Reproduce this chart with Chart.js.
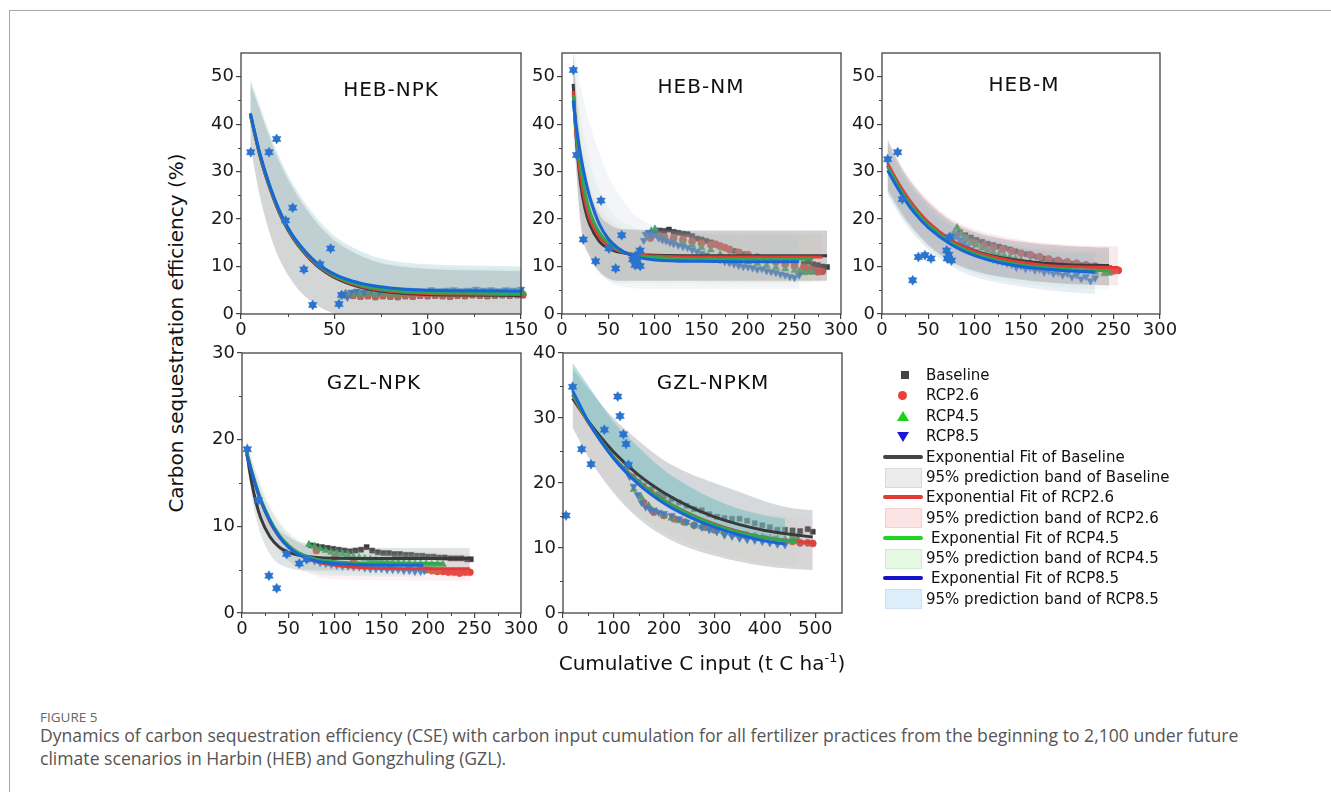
<!DOCTYPE html>
<html>
<head>
<meta charset="utf-8">
<script src="https://cdn.jsdelivr.net/npm/chart.js@4.4.1/dist/chart.umd.min.js"></script>
<style>
  body { margin: 0; background: #fff; width: 1331px; height: 792px; overflow: hidden; position: relative; font-family: "DejaVu Sans", sans-serif; }
  .frame { position: absolute; left: 9px; top: 10px; width: 1400px; height: 900px; border-left: 1px solid #a8a8a8; border-top: 1px solid #a8a8a8; }
  canvas { position: absolute; }
  .ptitle { position: absolute; font-size: 20px; letter-spacing: 1px; color: #111; transform: translate(-50%, -50%); white-space: nowrap; }
  .ylab { position: absolute; left: 176px; top: 333px; font-size: 20px; color: #111; white-space: nowrap; transform: translate(-50%, -50%) rotate(-90deg); }
  .xlab { position: absolute; left: 702px; top: 663px; font-size: 20px; color: #111; white-space: nowrap; transform: translate(-50%, -50%); }
  .xlab sup { font-size: 13px; vertical-align: 8px; line-height: 0; }
  .lg { position: absolute; font-size: 15px; color: #111; white-space: nowrap; transform: translateY(-50%); }
  .sym { position: absolute; }
  .fig { position: absolute; left: 40px; top: 708px; font-family: "Open Sans", sans-serif; font-size: 13.5px; color: #666; }
  .cap { position: absolute; left: 40px; top: 724px; width: 1230px; font-family: "Open Sans", sans-serif; font-size: 17.6px; line-height: 23px; color: #555; }
</style>
</head>
<body>
<div class="frame"></div>
<canvas id="c1"></canvas>
<canvas id="c2"></canvas>
<canvas id="c3"></canvas>
<canvas id="c4"></canvas>
<canvas id="c5"></canvas>

<div class="ptitle" style="left:391px;top:89px">HEB-NPK</div>
<div class="ptitle" style="left:701px;top:86px">HEB-NM</div>
<div class="ptitle" style="left:1024px;top:84px">HEB-M</div>
<div class="ptitle" style="left:374px;top:382px">GZL-NPK</div>
<div class="ptitle" style="left:713px;top:382px">GZL-NPKM</div>

<div class="ylab">Carbon sequestration efficiency (%)</div>
<div class="xlab">Cumulative C input (t C ha<sup>-1</sup>)</div>

<div id="legend"></div>

<div class="fig">FIGURE 5</div>
<div class="cap">Dynamics of carbon sequestration efficiency (CSE) with carbon input cumulation for all fertilizer practices from the beginning to 2,100 under future climate scenarios in Harbin (HEB) and Gongzhuling (GZL).</div>

<script>
// tick values
const ticksX150 = [0, 50, 100, 150];
const minorX150 = [25, 75, 125];
const ticksX300 = [0, 50, 100, 150, 200, 250, 300];
const minorX300 = [25, 75, 125, 175, 225, 275];
const ticksX500 = [0, 100, 200, 300, 400, 500];
const minorX500 = [50, 150, 250, 350, 450];
const ticksY50 = [0, 10, 20, 30, 40, 50];
const minorY50 = [5, 15, 25, 35, 45];
const ticksY30 = [0, 10, 20, 30];
const minorY30 = [5, 15, 25];
const ticksY40 = [0, 10, 20, 30, 40];
const minorY40 = [5, 15, 25, 35];

const scenarios = ['Baseline', 'RCP2.6', 'RCP4.5', 'RCP8.5'];

// ---- HEB-NPK ----
const hebNpkHist = [[5.2,34.1],[15,34.1],[19.1,36.9],[23.9,19.7],[27.7,22.4],[33.7,9.4],[38.4,1.9],[42.3,10.5],[48,13.8],[52.5,2.1],[53.9,4.0]];
const hebNpkBaseline = [[56,4.0],[60,3.8],[64,3.6],[68,3.7],[72,3.5],[76,3.7],[80,3.6],[84,3.5],[88,3.7],[92,3.6],[96,3.8],[100,3.7],[104,3.8],[108,3.7],[112,3.6],[116,3.8],[120,3.7],[124,3.9],[128,3.8],[132,3.7],[136,3.8],[140,3.9],[144,3.8],[148,3.9],[151,3.9]];
const hebNpkRcp26 = [[56,4.0],[60,3.9],[64,3.8],[68,3.9],[72,3.7],[76,3.9],[80,3.8],[84,3.7],[88,3.9],[92,3.8],[96,4.0],[100,3.9],[104,4.0],[108,3.9],[112,3.8],[116,4.0],[120,3.9],[124,4.1],[128,4.0],[132,3.9],[136,4.0],[140,4.1],[144,4.0],[148,4.1],[151,4.1]];
const hebNpkRcp45 = [[56,4.4],[60,4.2],[64,4.2],[68,4.3],[72,4.1],[76,4.3],[80,4.2],[84,4.1],[88,4.3],[92,4.2],[96,4.4],[100,4.3],[104,4.4],[108,4.3],[112,4.2],[116,4.4],[120,4.3],[124,4.5],[128,4.4],[132,4.3],[136,4.4],[140,4.5],[144,4.4],[148,4.5],[151,4.5]];
const hebNpkRcp85 = [[55,4.2],[57,3.5],[59,4.6],[62,4.8],[66,4.6],[70,4.9],[74,4.7],[78,5.0],[82,4.8],[86,4.7],[90,5.0],[94,4.9],[98,4.8],[102,5.1],[106,4.9],[110,5.0],[114,5.1],[118,4.9],[122,5.0],[126,5.2],[130,5.0],[134,5.1],[138,4.9],[142,5.1],[146,5.0],[150,5.2]];
const hebNpkFitBaseline = [[5,42],[10,33.5],[15,27],[20,21.8],[25,17.8],[30,14.8],[40,10.4],[50,7.7],[60,6.1],[70,5.1],[80,4.6],[100,4.1],[120,4.0],[150,3.9]];
const hebNpkFitRcp26 = [[5,42.1],[10,33.7],[15,27.2],[20,22],[25,18],[30,15],[40,10.6],[50,7.9],[60,6.3],[70,5.3],[80,4.8],[100,4.3],[120,4.2],[150,4.1]];
const hebNpkFitRcp45 = [[5,42.2],[10,33.8],[15,27.3],[20,22.1],[25,18.1],[30,15.1],[40,10.7],[50,8.1],[60,6.5],[70,5.5],[80,5.0],[100,4.5],[120,4.4],[150,4.3]];
const hebNpkFitRcp85 = [[5,42.3],[10,34],[15,27.5],[20,22.3],[25,18.3],[30,15.3],[40,11],[50,8.4],[60,6.9],[70,6.0],[80,5.5],[100,5.0],[120,4.9],[150,4.8]];
// bands: [x, lower, upper]
const hebNpkBandBaseline = [[5,35.5,48.5],[10,25,43],[15,17.5,37.5],[20,12,32.5],[30,5.5,25],[40,2,19.5],[50,0,15.5],[60,-1,13],[70,-1.5,11.3],[80,-1.5,10.3],[100,-1.5,9.5],[125,-1.5,9.2],[150,-1.5,9]];
const hebNpkBandRcp26 = [[5,35.7,48.7],[10,25.2,43.2],[15,17.7,37.7],[20,12.2,32.7],[30,5.7,25.2],[40,2.2,19.7],[50,0.2,15.7],[60,-0.8,13.2],[70,-1.3,11.5],[80,-1.3,10.5],[100,-1.3,9.7],[125,-1.3,9.4],[150,-1.3,9.2]];
const hebNpkBandRcp45 = [[5,36,49],[10,25.5,43.5],[15,18,38],[20,12.5,33],[30,6,25.5],[40,2.5,20],[50,0.5,16],[60,-0.5,13.5],[70,-1,11.8],[80,-1,10.8],[100,-1,10],[125,-1,9.7],[150,-1,9.5]];
const hebNpkBandRcp85 = [[5,42.3,49.5],[10,34,44],[15,27.5,38.5],[20,22.3,33.5],[30,15.3,26],[40,11,20.5],[50,8.4,16.5],[60,6.9,14],[70,6.0,12.3],[80,5.5,11.3],[100,5.0,10.5],[125,4.9,10.2],[150,4.8,10]];

// ---- HEB-NM ----
const hebNmHist = [[12.2,51.4],[15.8,33.5],[22.9,15.7],[36.2,11.1],[41.9,23.9],[50.5,13.8],[57.7,9.6],[64.2,16.6],[76,11.5],[78.5,10.3],[79,12.3],[81,11.2],[84,13.4],[84,10.1]];
const hebNmBaseline = [[95,16.5],[100,17.2],[105,17.6],[110,17.5],[115,17.8],[120,17.3],[125,17.1],[130,16.9],[135,16.8],[140,16.4],[145,15.9],[150,15.7],[155,15.4],[160,15.1],[165,14.8],[170,14.4],[175,14.0],[180,13.7],[185,13.3],[190,13.0],[195,12.6],[200,12.3],[210,11.8],[220,11.4],[230,11.1],[240,10.9],[250,10.7],[260,10.6],[265,11.0],[270,10.5],[275,10.3],[280,10.0],[285,9.9]];
const hebNmRcp26 = [[95,16],[100,16.8],[105,16.5],[110,16.3],[120,16],[130,15.6],[140,15.3],[150,14.9],[160,14.6],[165,14.7],[170,14.3],[175,14.0],[180,13.6],[190,13.0],[200,12.5],[210,12.0],[220,11.4],[230,11.0],[240,10.5],[250,10.1],[260,9.8],[265,9.5],[270,9.2],[275,8.9],[280,9.0]];
const hebNmRcp45 = [[92,16.8],[96,17.5],[100,17.9],[105,16.3],[110,15.8],[120,15.4],[130,15.0],[140,14.5],[150,14.0],[160,13.5],[170,12.6],[180,12.0],[190,11.5],[200,11.0],[210,10.6],[220,10.2],[230,9.8],[240,9.5],[250,9.2],[255,9.0],[260,8.7],[265,8.8],[270,8.8]];
const hebNmRcp85 = [[88,15.5],[90,16.8],[93,17.2],[96,16.4],[100,17.0],[104,16.0],[108,15.6],[112,15.4],[116,15.1],[120,14.8],[125,14.5],[130,14.2],[135,14.0],[140,13.5],[145,13.2],[150,12.8],[155,12.4],[160,12.0],[165,11.8],[170,11.4],[175,11.0],[180,10.8],[185,10.5],[190,10.2],[195,10.0],[200,9.9],[205,9.7],[210,9.4],[215,9.5],[220,9.1],[225,8.9],[230,8.7],[235,8.4],[240,8.2],[245,7.9],[250,7.7],[255,8.2]];
const hebNmFitBaseline = [[12,48.5],[15,38],[20,27.5],[25,22],[30,18.8],[40,15.3],[50,13.8],[60,13.1],[75,12.6],[100,12.4],[150,12.3],[200,12.3],[285,12.3]];
const hebNmFitRcp26 = [[12,47],[15,38],[20,29],[25,23.5],[30,20],[40,16.3],[50,14.4],[60,13.4],[75,12.6],[100,12.2],[150,12],[200,12],[280,12]];
const hebNmFitRcp45 = [[12,46],[15,39],[20,31],[25,25.5],[30,21.5],[40,17.2],[50,15],[60,13.6],[75,12.5],[100,11.9],[150,11.6],[200,11.6],[270,11.6]];
const hebNmFitRcp85 = [[12,45],[15,40],[20,33.5],[25,28.5],[30,24.5],[40,19],[50,15.8],[60,13.9],[75,12.3],[100,11.4],[150,11.1],[200,11],[255,11]];
const hebNmBandBaseline = [[12,42,55],[20,19,36],[30,12,26],[40,9,21],[50,7.5,19],[60,7,18],[75,7,17.8],[100,7,17.6],[200,7,17.6],[285,7,17.6]];
const hebNmBandRcp26 = [[12,40,54],[20,20,38],[30,12,28],[40,8.5,22.5],[50,7.3,20],[60,7,18.5],[75,7,17.5],[100,7,17],[200,6.8,16.8],[280,6.8,16.8]];
const hebNmBandRcp45 = [[12,38,55],[20,21,42],[30,13,32],[40,9,26],[50,7,22.5],[60,6.5,20],[75,6.5,18.5],[100,6.5,17],[200,6.5,16.6],[270,6.5,16.6]];
const hebNmBandRcp85 = [[12,35,57],[20,22,48],[30,14,40],[40,9.5,34],[50,7,29],[60,6,25.5],[75,5.5,21.5],[100,5.3,18.5],[150,5.3,17],[200,5.3,16.8],[255,5.3,16.8]];

// ---- HEB-M ----
const hebMHist = [[6.1,32.6],[16.9,34.1],[21.9,24.2],[33.1,7.1],[39.2,12.0],[46.4,12.4],[52.9,11.7],[69.8,13.4],[70.5,11.7],[72,12.5],[73,16.2],[75,11.3]];
const hebMBaseline = [[78,16.8],[84,17.2],[90,16.6],[96,16.1],[102,15.6],[108,15.2],[114,14.8],[120,14.5],[126,14.2],[132,13.9],[138,13.6],[144,13.2],[150,12.9],[156,12.6],[162,12.3],[168,12],[174,11.7],[180,11.4],[186,11.2],[192,11],[198,10.8],[204,10.6],[210,10.5],[216,10.3],[222,10.2],[228,10],[234,9.9],[240,9.8],[245,9.7]];
const hebMRcp26 = [[80,16.5],[90,15.8],[100,15.0],[110,14.5],[120,14.0],[130,13.6],[140,13.2],[150,12.8],[160,12.5],[170,12.1],[180,11.6],[190,11.3],[200,11.0],[210,10.7],[220,10.4],[230,10.1],[240,9.6],[245,9.3],[250,9.1],[255,9.2]];
const hebMRcp45 = [[78,17.2],[81,18.2],[85,16.8],[90,16.0],[96,15.2],[102,14.5],[108,13.9],[114,13.4],[120,13.0],[126,12.6],[132,12.3],[138,12.0],[144,11.7],[150,11.4],[160,11],[170,10.6],[180,10.2],[190,10],[200,9.7],[210,9.4],[220,9.1],[230,8.8],[240,8.5],[245,8.6]];
const hebMRcp85 = [[74,15.3],[77,16.3],[80,16.6],[84,15.6],[88,14.8],[92,14.2],[96,13.6],[100,13.2],[105,12.7],[110,12.3],[115,11.9],[120,11.5],[125,11.2],[130,11],[135,10.7],[140,10.4],[145,9.8],[150,10.1],[155,9.5],[160,9.8],[165,9.2],[170,9.4],[175,8.8],[180,9.1],[185,8.5],[190,8.8],[195,8.2],[200,8.5],[205,7.8],[210,8.2],[215,7.4],[220,7.9],[225,7.0],[230,7.6]];
const hebMFitBaseline = [[6,31.3],[15,28.2],[25,25],[35,22.4],[50,19.2],[75,15.5],[100,13.3],[125,12],[150,11.2],[175,10.7],[200,10.4],[245,10.2]];
const hebMFitRcp26 = [[6,31.8],[15,28.5],[25,25.3],[35,22.6],[50,19.3],[75,15.5],[100,13.2],[125,11.8],[150,10.9],[175,10.3],[200,10],[255,9.8]];
const hebMFitRcp45 = [[6,31],[15,27.8],[25,24.6],[35,22],[50,18.8],[75,15],[100,12.7],[125,11.3],[150,10.4],[175,9.8],[200,9.4],[245,9.1]];
const hebMFitRcp85 = [[6,30.3],[15,27.2],[25,24],[35,21.3],[50,18.2],[75,14.6],[100,12.3],[125,10.9],[150,10],[175,9.5],[200,9.1],[230,8.8]];
const hebMBandBaseline = [[6,26,36.5],[25,20,29.5],[50,14.5,23.5],[75,11,19.5],[100,9,17.3],[150,7.2,15.2],[200,6.3,14.3],[245,6,14]];
const hebMBandRcp26 = [[6,26.5,37],[25,20.5,30],[50,14.8,24],[75,11.2,20],[100,9.2,17.8],[150,7.4,15.6],[200,6.5,14.6],[255,6,14.2]];
const hebMBandRcp45 = [[6,25.5,36],[25,19.5,29],[50,14,23],[75,10.5,19],[100,8.5,16.8],[150,6.5,14.6],[200,5.5,13.6],[245,5.2,13.3]];
const hebMBandRcp85 = [[6,25,35.5],[25,19,28.5],[50,13.5,22.5],[75,10,18.5],[100,7.8,16.3],[150,5.8,14],[200,4.6,13],[230,4.2,12.8]];

// ---- GZL-NPK ----
const gzlNpkHist = [[5.7,18.9],[17.6,13.0],[29,4.3],[37.3,2.85],[48,6.8],[61.6,5.7],[69.5,6.2]];
const gzlNpkBaseline = [[74,7.8],[80,7.7],[86,7.6],[92,7.5],[98,7.4],[104,7.3],[110,7.2],[116,7.1],[122,7.2],[128,7.3],[134,7.6],[140,7.2],[146,7.0],[152,6.9],[158,6.9],[164,6.8],[170,6.8],[176,6.7],[182,6.7],[188,6.6],[194,6.6],[200,6.5],[206,6.5],[212,6.4],[218,6.4],[224,6.3],[230,6.3],[236,6.3],[242,6.2],[246,6.2]];
const gzlNpkRcp26 = [[80,7.2],[100,6.5],[120,6.0],[140,5.7],[160,5.5],[180,5.3],[192,5.2],[198,5.0],[204,4.9],[210,4.8],[216,4.8],[222,4.7],[228,4.7],[234,4.6],[240,4.7],[245,4.7]];
const gzlNpkRcp45 = [[72,7.9],[78,7.7],[84,7.4],[90,7.2],[96,7.0],[102,6.9],[108,6.8],[114,6.7],[120,6.5],[126,6.4],[132,6.3],[138,6.2],[144,6.1],[150,6.0],[156,6.0],[162,5.9],[168,5.9],[174,5.8],[180,5.8],[186,5.7],[192,5.7],[198,5.7],[204,5.6],[210,5.6],[216,5.6]];
const gzlNpkRcp85 = [[72,6.3],[78,6.0],[84,5.8],[90,5.7],[96,5.6],[102,5.5],[108,5.4],[114,5.4],[120,5.3],[126,5.3],[132,5.2],[138,5.1],[144,5.1],[150,5.1],[156,5.0],[162,5.0],[168,5.0],[174,4.9],[180,4.9],[186,4.8],[192,4.8],[196,4.9]];
const gzlNpkFitBaseline = [[5,18.6],[10,15.3],[15,12.8],[20,11],[30,8.8],[40,7.6],[50,7.0],[60,6.7],[80,6.4],[120,6.3],[245,6.3]];
const gzlNpkFitRcp26 = [[5,18.5],[10,16.5],[15,14.6],[20,13],[30,10.5],[40,8.8],[50,7.6],[60,6.8],[80,5.9],[120,5.3],[180,5.1],[245,5.1]];
const gzlNpkFitRcp45 = [[5,18.5],[10,16.6],[15,14.8],[20,13.2],[30,10.8],[40,9.0],[50,7.8],[60,7.0],[80,6.2],[120,5.8],[215,5.7]];
const gzlNpkFitRcp85 = [[5,18.3],[10,16.4],[15,14.6],[20,13],[30,10.6],[40,8.8],[50,7.6],[60,6.8],[80,6.0],[120,5.6],[195,5.5]];
const gzlNpkBandBaseline = [[5,17.2,20],[15,11,14.5],[30,6.8,10.8],[50,5.2,8.8],[75,4.9,7.8],[100,4.9,7.6],[245,4.9,7.5]];
const gzlNpkBandRcp26 = [[5,17,20],[15,13,16.3],[30,8.8,12.2],[50,6,9.2],[75,4.4,7.5],[100,3.9,7],[245,3.7,6.8]];
const gzlNpkBandRcp45 = [[5,17,20.2],[15,13.2,16.5],[30,9,12.5],[50,6.2,9.4],[75,4.9,7.8],[100,4.5,7.3],[215,4.4,7.1]];
const gzlNpkBandRcp85 = [[5,16.8,19.8],[15,13,16],[30,9,12],[50,6,9],[75,4.6,7.3],[100,4.3,6.8],[195,4.2,6.7]];

// ---- GZL-NPKM ----
const gzlNpkmHist = [[6,15],[19,34.8],[37,25.2],[55.6,22.9],[82,28.2],[108.5,33.3],[113,30.3],[119.7,27.5],[125,26],[129.7,22.8]];
const gzlNpkmBaseline = [[130,22.5],[140,21],[150,20.2],[160,19.6],[175,19],[190,18.3],[200,18],[215,17.5],[230,17],[245,16.5],[260,16],[275,15.8],[290,15.2],[305,14.8],[320,14.6],[335,14.5],[350,14.5],[365,14.2],[380,13.8],[395,13.5],[410,13.2],[425,12.8],[440,12.8],[455,12.7],[470,12.6],[485,12.9],[495,12.5]];
const gzlNpkmRcp26 = [[160,17],[180,15.5],[200,15],[220,14.5],[240,14],[260,13.5],[280,13.2],[300,12.8],[320,12.5],[340,12.3],[360,12],[380,11.8],[400,11.5],[420,11.3],[440,11],[455,11],[470,10.8],[485,10.8],[495,10.7]];
const gzlNpkmRcp45 = [[140,19],[155,17.8],[170,16.5],[185,15.6],[200,15],[215,14.6],[230,14.2],[245,13.9],[260,13.5],[275,13.3],[290,13],[305,12.7],[320,12.5],[335,12.3],[350,12.1],[365,12],[380,11.8],[395,11.7],[410,11.5],[425,11.4],[440,11.3],[455,11.8],[465,11.4]];
const gzlNpkmRcp85 = [[132,21],[140,19.5],[148,18.2],[156,17],[164,16.3],[172,16],[180,15.8],[190,15.5],[200,15.3],[215,15],[230,14.5],[245,14],[260,13.5],[275,13.2],[290,12.8],[305,12.5],[320,12],[335,11.8],[350,11.5],[365,11.3],[380,11.2],[395,11],[410,10.8],[425,10.6],[440,10.5]];
const gzlNpkmFitBaseline = [[19,33],[50,29.5],[100,24.8],[150,21.2],[200,18.5],[250,16.4],[300,14.8],[350,13.6],[400,12.7],[450,12.1],[495,11.7]];
const gzlNpkmFitRcp26 = [[19,33.5],[50,29.3],[100,24],[150,20.2],[200,17.4],[250,15.3],[300,13.7],[350,12.5],[400,11.6],[450,11.1],[495,10.8]];
const gzlNpkmFitRcp45 = [[19,33.7],[50,29.4],[100,24],[150,20.1],[200,17.3],[250,15.2],[300,13.6],[350,12.4],[400,11.6],[465,10.9]];
const gzlNpkmFitRcp85 = [[19,34.2],[50,29.5],[100,23.8],[150,19.8],[200,16.9],[250,14.8],[300,13.2],[350,12.0],[400,11.1],[440,10.6]];
const gzlNpkmBandBaseline = [[19,28.5,37.5],[50,24,34.5],[100,18.5,30],[150,14.5,26.5],[200,11.8,23.5],[250,10,21.5],[300,8.8,20],[350,7.9,18.6],[400,7.2,17.2],[450,6.8,16.2],[495,6.6,15.8]];
const gzlNpkmBandRcp26 = [[19,29,38],[50,24.2,34.5],[100,18.8,29],[150,15,25],[200,12.4,21.8],[250,10.6,19.2],[300,9.3,17.3],[350,8.3,16],[400,7.6,15.2],[450,7.2,14.8],[495,7,14.6]];
const gzlNpkmBandRcp45 = [[19,29,38],[50,24.2,34.5],[100,18.8,29],[150,15,25],[200,12.4,21.8],[250,10.6,19.2],[300,9.3,17.3],[350,8.3,16],[400,7.6,15.2],[465,7.1,14.7]];
const gzlNpkmBandRcp85 = [[19,34.2,38.5],[50,29.5,35],[100,23.8,29.5],[150,19.8,25.5],[200,16.9,22],[250,14.8,19.5],[300,13.2,17.5],[350,12,16],[400,11.1,15],[440,10.6,14.5]];

// styles
const pointColor = ['#3d3d3d', '#e5403a', '#35a055', '#1f6fd6'];
const fitColor = ['#3a3a3a', '#e53935', '#2fa84f', '#1766d6'];
const bandRgb = ['120,128,138', '235,150,150', '150,220,150', '130,180,220'];
const histColor = '#2a74d0';

const framePlugin = {
  id: 'panelFrame',
  afterDraw(chart, args, opts) {
    const { ctx, chartArea: a, scales: { x, y } } = chart;
    ctx.save();
    ctx.strokeStyle = '#444';
    ctx.lineWidth = 1.3;
    ctx.strokeRect(a.left, a.top, a.right - a.left, a.bottom - a.top);
    ctx.lineWidth = 1;
    ctx.beginPath();
    (opts.xMinor || []).forEach(v => {
      const px = Math.round(x.getPixelForValue(v)) + 0.5;
      ctx.moveTo(px, a.bottom); ctx.lineTo(px, a.bottom + 3);
    });
    (opts.yMinor || []).forEach(v => {
      const py = Math.round(y.getPixelForValue(v)) + 0.5;
      ctx.moveTo(a.left, py); ctx.lineTo(a.left - 3, py);
    });
    ctx.stroke();
    ctx.restore();
  }
};
Chart.register(framePlugin);

const xy = arr => arr.map(([x, y]) => ({ x, y }));

function makePanel(id, box, d) {
  const padT = 14, padR = 26, axW = 50, axH = 36;
  const cv = document.getElementById(id);
  const w = box.r - box.l + axW + padR;
  const h = box.b - box.t + padT + axH;
  cv.width = w; cv.height = h;
  cv.style.width = w + 'px'; cv.style.height = h + 'px';
  cv.style.left = (box.l - axW) + 'px';
  cv.style.top = (box.t - padT) + 'px';

  const rgb = d.bandRgb || bandRgb;
  const datasets = [];
  // historical observations: up + down triangles give a star
  datasets.push({ type: 'scatter', data: xy(d.hist), pointStyle: 'triangle', pointRadius: 5, backgroundColor: histColor, borderColor: histColor, borderWidth: 0.5, order: 1, clip: false });
  datasets.push({ type: 'scatter', data: xy(d.hist), pointStyle: 'triangle', rotation: 180, pointRadius: 5, backgroundColor: histColor, borderColor: histColor, borderWidth: 0.5, order: 2, clip: false });
  // fitted curves
  d.fits.forEach((f, i) => {
    datasets.push({ type: 'line', data: xy(f), borderColor: fitColor[i], borderWidth: 3, pointRadius: 0, cubicInterpolationMode: 'monotone', fill: false, order: 10 - i });
  });
  // projected points (under the bands)
  const styles = [
    { pointStyle: 'rect', pointRadius: 3.6 },
    { pointStyle: 'circle', pointRadius: 3.6 },
    { pointStyle: 'triangle', pointRadius: 4.2 },
    { pointStyle: 'triangle', pointRadius: 4.2, rotation: 180 }
  ];
  d.points.forEach((p, i) => {
    datasets.push(Object.assign({ type: 'scatter', data: xy(p), backgroundColor: pointColor[i], borderColor: pointColor[i], borderWidth: 0.5, order: 60 - i, clip: false }, styles[i]));
  });
  // prediction bands
  d.bands.forEach((b, i) => {
    const col = 'rgba(' + rgb[i] + ',' + d.bandAlpha[i] + ')';
    datasets.push({ type: 'line', data: b.map(r => ({ x: r[0], y: r[2] })), borderWidth: 0, pointRadius: 0, cubicInterpolationMode: 'monotone', backgroundColor: col, fill: '+1', order: 40 - i });
    datasets.push({ type: 'line', data: b.map(r => ({ x: r[0], y: r[1] })), borderWidth: 0, pointRadius: 0, cubicInterpolationMode: 'monotone', fill: false, order: 40 - i });
  });

  const tickFont = { family: 'DejaVu Sans', size: 18 };
  const gridOpt = { display: true, drawOnChartArea: false, drawTicks: true, tickLength: 5, color: '#444', lineWidth: 1.2 };

  new Chart(cv, {
    type: 'scatter',
    data: { datasets },
    options: {
      responsive: false,
      animation: false,
      devicePixelRatio: 1,
      layout: { padding: { top: padT, right: padR, left: 0, bottom: 0 } },
      plugins: {
        legend: { display: false },
        tooltip: { enabled: false },
        panelFrame: { xMinor: d.xMinor, yMinor: d.yMinor }
      },
      scales: {
        x: {
          type: 'linear', min: 0, max: d.xMax,
          afterBuildTicks: s => { s.ticks = d.xTicks.map(v => ({ value: v })); },
          afterFit: s => { s.height = axH; },
          grid: gridOpt,
          border: { display: false },
          ticks: { font: tickFont, color: '#1a1a1a', padding: 1, maxRotation: 0, autoSkip: false }
        },
        y: {
          type: 'linear', min: 0, max: d.yMax,
          afterBuildTicks: s => { s.ticks = d.yTicks.map(v => ({ value: v })); },
          afterFit: s => { s.width = axW; },
          grid: gridOpt,
          border: { display: false },
          ticks: { font: tickFont, color: '#1a1a1a', padding: 2, autoSkip: false }
        }
      }
    }
  });
}

makePanel('c1', { l: 241, t: 53, r: 521, b: 314 }, {
  xMax: 150, yMax: 55, xTicks: ticksX150, xMinor: minorX150, yTicks: ticksY50, yMinor: minorY50,
  hist: hebNpkHist,
  points: [hebNpkBaseline, hebNpkRcp26, hebNpkRcp45, hebNpkRcp85],
  fits: [hebNpkFitBaseline, hebNpkFitRcp26, hebNpkFitRcp45, hebNpkFitRcp85],
  bands: [hebNpkBandBaseline, hebNpkBandRcp26, hebNpkBandRcp45, hebNpkBandRcp85],
  bandRgb: ['120,128,138', '235,150,150', '150,220,150', '136,190,200'],
  bandAlpha: [0.3, 0.06, 0.06, 0.28]
});
makePanel('c2', { l: 562, t: 53, r: 841, b: 314 }, {
  xMax: 300, yMax: 55, xTicks: ticksX300, xMinor: minorX300, yTicks: ticksY50, yMinor: minorY50,
  hist: hebNmHist,
  points: [hebNmBaseline, hebNmRcp26, hebNmRcp45, hebNmRcp85],
  fits: [hebNmFitBaseline, hebNmFitRcp26, hebNmFitRcp45, hebNmFitRcp85],
  bands: [hebNmBandBaseline, hebNmBandRcp26, hebNmBandRcp45, hebNmBandRcp85],
  bandRgb: ['120,124,130', '235,150,150', '150,220,150', '170,185,215'],
  bandAlpha: [0.36, 0.12, 0.1, 0.14]
});
makePanel('c3', { l: 882, t: 53, r: 1160, b: 314 }, {
  xMax: 300, yMax: 55, xTicks: ticksX300, xMinor: minorX300, yTicks: ticksY50, yMinor: minorY50,
  hist: hebMHist,
  points: [hebMBaseline, hebMRcp26, hebMRcp45, hebMRcp85],
  fits: [hebMFitBaseline, hebMFitRcp26, hebMFitRcp45, hebMFitRcp85],
  bands: [hebMBandBaseline, hebMBandRcp26, hebMBandRcp45, hebMBandRcp85],
  bandRgb: ['120,124,132', '215,150,165', '150,210,160', '140,175,210'],
  bandAlpha: [0.32, 0.2, 0.1, 0.2]
});
makePanel('c4', { l: 242, t: 353, r: 521, b: 613 }, {
  xMax: 300, yMax: 30, xTicks: ticksX300, xMinor: minorX300, yTicks: ticksY30, yMinor: minorY30,
  hist: gzlNpkHist,
  points: [gzlNpkBaseline, gzlNpkRcp26, gzlNpkRcp45, gzlNpkRcp85],
  fits: [gzlNpkFitBaseline, gzlNpkFitRcp26, gzlNpkFitRcp45, gzlNpkFitRcp85],
  bands: [gzlNpkBandBaseline, gzlNpkBandRcp26, gzlNpkBandRcp45, gzlNpkBandRcp85],
  bandAlpha: [0.22, 0.12, 0.12, 0.15]
});
makePanel('c5', { l: 563, t: 353, r: 842, b: 613 }, {
  xMax: 553, yMax: 40, xTicks: ticksX500, xMinor: minorX500, yTicks: ticksY40, yMinor: minorY40,
  hist: gzlNpkmHist,
  points: [gzlNpkmBaseline, gzlNpkmRcp26, gzlNpkmRcp45, gzlNpkmRcp85],
  fits: [gzlNpkmFitBaseline, gzlNpkmFitRcp26, gzlNpkmFitRcp45, gzlNpkmFitRcp85],
  bands: [gzlNpkmBandBaseline, gzlNpkmBandRcp26, gzlNpkmBandRcp45, gzlNpkmBandRcp85],
  bandRgb: ['120,128,138', '235,150,150', '150,220,150', '112,190,196'],
  bandAlpha: [0.3, 0.08, 0.08, 0.5]
});

// legend (HTML)
const legendMarkers = [
  '<div class="sym" style="left:901px;top:371px;width:8px;height:8px;background:#444"></div>',
  '<div class="sym" style="left:898px;top:391px;width:9px;height:9px;border-radius:50%;background:#ee3b3b"></div>',
  '<div class="sym" style="left:897px;top:411px;width:0;height:0;border-left:6px solid transparent;border-right:6px solid transparent;border-bottom:10px solid #14d414"></div>',
  '<div class="sym" style="left:897px;top:432px;width:0;height:0;border-left:6px solid transparent;border-right:6px solid transparent;border-top:10px solid #1a1ad4"></div>'
];
const legendLines = ['#444', '#e53935', '#22d422', '#1414c8'];
const legendBands = [['#ececec', '#dadada'], ['#fde4e4', '#f0d2d2'], ['#e3f9e3', '#d2ecd2'], ['#ddeefb', '#cfe1f0']];
let html = legendMarkers.join('');
scenarios.forEach((s, i) => {
  html += '<div class="lg" style="left:926px;top:' + (375 + i * 20.4) + 'px">' + s + '</div>';
});
scenarios.forEach((s, i) => {
  const yLine = 456.7 + i * 40.5;
  const yBand = 477 + i * 40.5;
  const tx = i >= 2 ? 931 : 926;
  html += '<div class="sym" style="left:883px;top:' + (yLine - 2) + 'px;width:40px;height:4px;border-radius:2px;background:' + legendLines[i] + '"></div>';
  html += '<div class="lg" style="left:' + tx + 'px;top:' + yLine + 'px">Exponential Fit of ' + s + '</div>';
  html += '<div class="sym" style="left:885px;top:' + (yBand - 9.5) + 'px;width:35px;height:18px;background:' + legendBands[i][0] + ';border:1px solid ' + legendBands[i][1] + '"></div>';
  html += '<div class="lg" style="left:926px;top:' + yBand + 'px">95% prediction band of ' + s + '</div>';
});
document.getElementById('legend').innerHTML = html;
</script>
</body>
</html>
